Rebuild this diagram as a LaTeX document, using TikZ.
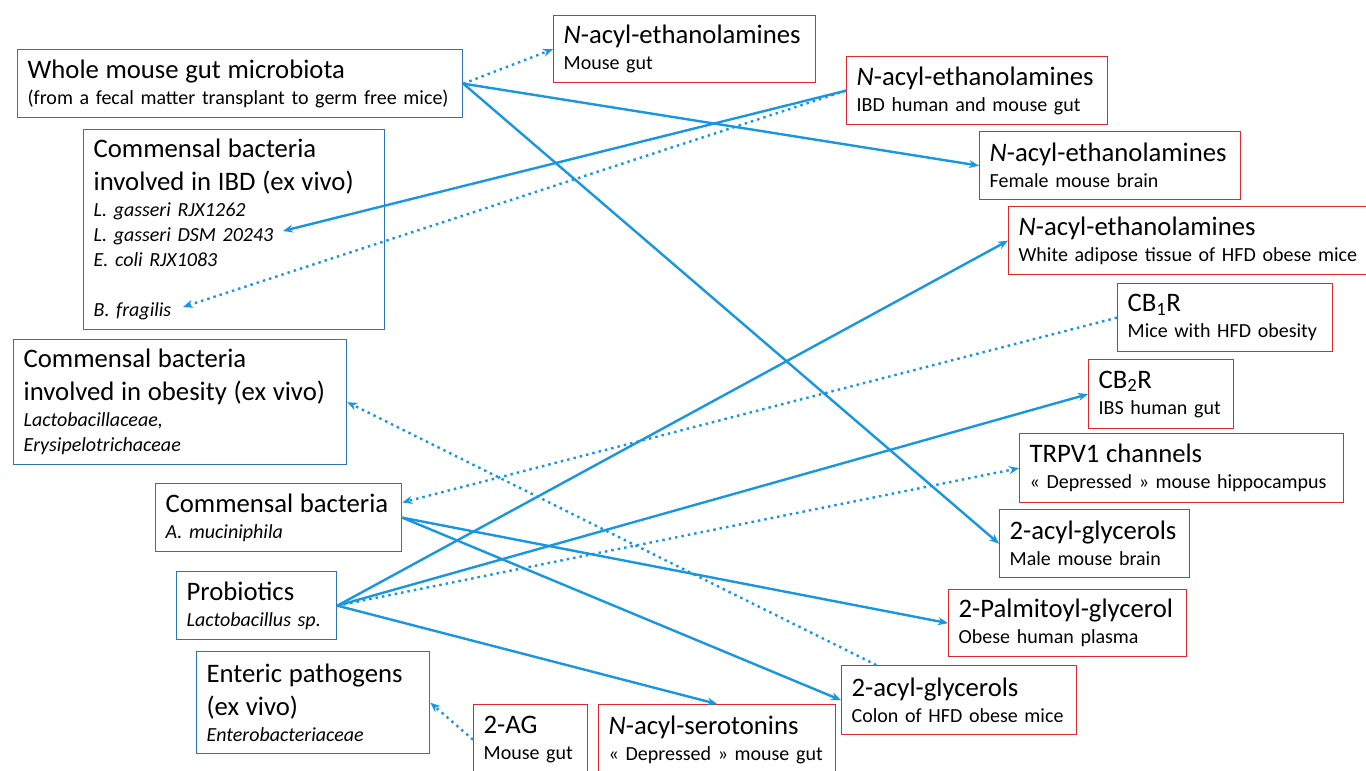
\documentclass[tikz,border=0pt]{standalone}
\usepackage{fontspec}
\setmainfont{Carlito}
\usetikzlibrary{arrows.meta}

\definecolor{srcblue}{RGB}{46,117,182}
\definecolor{tgtred}{RGB}{222,40,48}
\definecolor{linkblue}{RGB}{24,150,224}
\newcommand{\boxhead}{\fontsize{26.7}{31}\selectfont}

\begin{document}
\begin{tikzpicture}[
    x=1pt, y=-1pt,
    src/.style={draw=srcblue,
                line width=1.3pt,
                anchor=north west,
                inner xsep=10pt,
                inner ysep=0pt,
                align=left,
                font=\fontsize{20}{25}\selectfont},
    tgt/.style={src, draw=tgtred},
    act/.style={draw=linkblue, line width=2.4pt, -{Stealth[length=10pt,width=8pt]}},
    pot/.style={act, dash pattern=on 2.5pt off 4pt}
]
\useasboundingbox (0,0) rectangle (1366,771);

\node[src, text width=425, minimum height=68] (whole) at (17,49)
    {{\boxhead Whole mouse gut microbiota}\\[1pt](from a fecal matter transplant to germ free mice)};
\node[src, text width=281, minimum height=200] (ibd) at (83,129)
    {{\boxhead Commensal bacteria}\\[8pt]{\boxhead involved in IBD (ex vivo)}\\[1pt]\textit{L. gasseri RJX1262}\\\textit{L. gasseri DSM 20243}\\\textit{E. coli RJX1083}\\[25pt]\textit{B. fragilis}};
\node[src, text width=313, minimum height=125] (obese) at (13,339)
    {{\boxhead Commensal bacteria}\\[8pt]{\boxhead involved in obesity (ex vivo)}\\[1pt]\textit{Lactobacillaceae,}\\\textit{Erysipelotrichaceae}};
\node[src, text width=226, minimum height=68] (akk) at (155,483)
    {{\boxhead Commensal bacteria}\\[1pt]\textit{A. muciniphila}};
\node[src, text width=140, minimum height=68] (probio) at (176,571)
    {{\boxhead Probiotics}\\[1pt]\textit{Lactobacillus sp.}};
\node[src, text width=213, minimum height=102] (enteric) at (196,651)
    {{\boxhead Enteric pathogens}\\[8pt]{\boxhead (ex vivo)}\\[1pt]\textit{Enterobacteriaceae}};

\node[tgt, text width=242, minimum height=67] (naeA) at (553,15)
    {{\boxhead\textit{N}-acyl-ethanolamines}\\[1pt]Mouse gut};
\node[tgt, text width=241, minimum height=68] (naeB) at (846,56)
    {{\boxhead\textit{N}-acyl-ethanolamines}\\[1pt]IBD human and mouse gut};
\node[tgt, text width=241, minimum height=68] (naeC) at (979,131)
    {{\boxhead\textit{N}-acyl-ethanolamines}\\[1pt]Female mouse brain};
\node[tgt, text width=338, minimum height=68] (naeD) at (1008,206)
    {{\boxhead\textit{N}-acyl-ethanolamines}\\[1pt]\mbox{White adipose tissue of HFD obese mice}};
\node[tgt, text width=195, minimum height=68] (cb1) at (1117,283)
    {{\boxhead CB\textsubscript{1}R}\\[1pt]Mice with HFD obesity};
\node[tgt, text width=125, minimum height=69] (cb2) at (1088,359)
    {{\boxhead CB\textsubscript{2}R}\\[1pt]IBS human gut};
\node[tgt, text width=304, minimum height=69] (trpv) at (1019,433)
    {{\boxhead TRPV1 channels}\\[1pt]« Depressed » mouse hippocampus};
\node[tgt, text width=170, minimum height=68] (agM) at (999,509)
    {{\boxhead 2-acyl-glycerols}\\[1pt]Male mouse brain};
\node[tgt, text width=218, minimum height=67] (pg) at (948,589)
    {{\boxhead 2-Palmitoyl-glycerol}\\[1pt]Obese human plasma};
\node[tgt, text width=215, minimum height=69] (agC) at (841,665)
    {{\boxhead 2-acyl-glycerols}\\[1pt]Colon of HFD obese mice};
\node[tgt, text width=94, minimum height=70] (ag2) at (473,704)
    {{\boxhead 2-AG}\\[1pt]Mouse gut};
\node[tgt, text width=217, minimum height=70] (nas) at (598,704)
    {{\boxhead\textit{N}-acyl-serotonins}\\[1pt]« Depressed » mouse gut};

\coordinate (dsm) at (283,231);
\coordinate (frag) at (183,307);

\foreach \a/\b in {whole.east/naeC.west, whole.east/agM.west, naeB.west/dsm,
                   probio.east/naeD.west, probio.east/cb2.west, probio.east/nas.north,
                   akk.east/pg.west, akk.east/agC.west}
    \draw[act] (\a) -- (\b);

\foreach \a/\b in {whole.east/naeA.west, naeB.west/frag, cb1.west/akk.7,
                   probio.east/trpv.west, agC.157/obese.east, ag2.west/enteric.east}
    \draw[pot] (\a) -- (\b);
\end{tikzpicture}
\end{document}
